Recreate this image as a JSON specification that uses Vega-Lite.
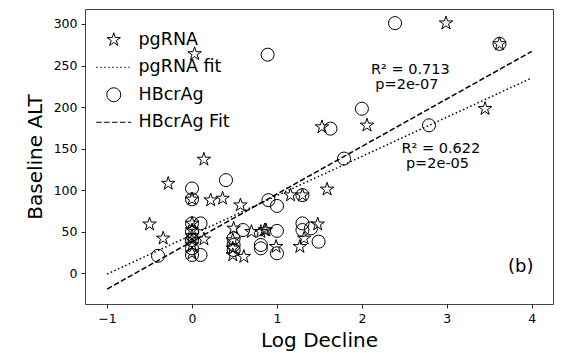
{
  "$schema": "https://vega.github.io/schema/vega-lite/v6.json",
  "width": 468,
  "height": 295,
  "autosize": "none",
  "padding": {"left": 85, "top": 9, "right": 13, "bottom": 49},
  "background": "white",
  "config": {
    "view": {"stroke": "#444", "strokeWidth": 1},
    "font": "DejaVu Sans",
    "axis": {
      "grid": false,
      "domain": false,
      "tickColor": "#222",
      "tickSize": 4,
      "tickWidth": 1,
      "labelFont": "DejaVu Sans",
      "labelFontSize": 12.5,
      "labelColor": "#000",
      "labelPadding": 4,
      "titleFont": "DejaVu Sans",
      "titleFontSize": 20,
      "titleFontWeight": "normal",
      "titleColor": "#000"
    }
  },
  "datasets": {
    "pgRNA": [
      {"x": 0.03, "y": 264}, {"x": 2.99, "y": 301}, {"x": 3.62, "y": 276}, {"x": 3.45, "y": 198},
      {"x": 2.06, "y": 178}, {"x": 1.53, "y": 176}, {"x": 0.14, "y": 137}, {"x": -0.28, "y": 108},
      {"x": 0.0, "y": 89}, {"x": 0.22, "y": 88}, {"x": 0.36, "y": 90}, {"x": 0.57, "y": 82},
      {"x": 1.16, "y": 94}, {"x": 1.30, "y": 94}, {"x": 1.59, "y": 101}, {"x": -0.50, "y": 59},
      {"x": -0.34, "y": 42}, {"x": 0.0, "y": 60}, {"x": 0.0, "y": 52}, {"x": 0.0, "y": 45},
      {"x": 0.0, "y": 40}, {"x": 0.0, "y": 34}, {"x": 0.0, "y": 24}, {"x": 0.14, "y": 41},
      {"x": 0.49, "y": 54}, {"x": 0.70, "y": 50}, {"x": 0.81, "y": 50}, {"x": 0.87, "y": 52},
      {"x": 0.48, "y": 30}, {"x": 0.48, "y": 22}, {"x": 0.61, "y": 20}, {"x": 0.48, "y": 40},
      {"x": 0.99, "y": 32}, {"x": 1.27, "y": 32}, {"x": 1.32, "y": 42}, {"x": 1.48, "y": 59},
      {"x": 0.855, "y": 52}
    ],
    "hbcrag": [
      {"x": 0.89, "y": 263}, {"x": 2.39, "y": 301}, {"x": 3.62, "y": 276}, {"x": 2.0, "y": 198},
      {"x": 1.63, "y": 174}, {"x": 2.79, "y": 178}, {"x": 1.79, "y": 138}, {"x": 0.40, "y": 112},
      {"x": 0.0, "y": 102}, {"x": 0.0, "y": 89}, {"x": 0.90, "y": 88}, {"x": 1.0, "y": 81},
      {"x": 1.30, "y": 94}, {"x": -0.40, "y": 21}, {"x": 0.0, "y": 60}, {"x": 0.0, "y": 50},
      {"x": 0.0, "y": 40}, {"x": 0.0, "y": 30}, {"x": 0.0, "y": 22}, {"x": 0.10, "y": 60},
      {"x": 0.10, "y": 22}, {"x": 0.49, "y": 42}, {"x": 0.49, "y": 34}, {"x": 0.49, "y": 28},
      {"x": 0.60, "y": 52}, {"x": 0.81, "y": 34}, {"x": 0.81, "y": 30}, {"x": 1.0, "y": 51},
      {"x": 1.0, "y": 24}, {"x": 1.30, "y": 60}, {"x": 1.30, "y": 52}, {"x": 1.40, "y": 54},
      {"x": 1.49, "y": 38}
    ],
    "fits": [
      {"series": "pgRNA fit", "x": -1, "y": -1}, {"series": "pgRNA fit", "x": 4, "y": 235},
      {"series": "HBcrAg Fit", "x": -1, "y": -19}, {"series": "HBcrAg Fit", "x": 4, "y": 267}
    ],
    "notes": [
      {"x": 2.57, "y": 245, "label": "R² = 0.713", "size": 14.5},
      {"x": 2.53, "y": 226, "label": "p=2e-07", "size": 14.5},
      {"x": 2.93, "y": 150, "label": "R² = 0.622", "size": 14.5},
      {"x": 2.89, "y": 131, "label": "p=2e-05", "size": 14.5},
      {"x": 3.87, "y": 8, "label": "(b)", "size": 18}
    ]
  },
  "encoding": {
    "x": {"field": "x", "type": "quantitative", "title": "Log Decline",
      "scale": {"domain": [-1.26, 4.25], "nice": false, "zero": false},
      "axis": {"values": [-1, 0, 1, 2, 3, 4], "titlePadding": 6}},
    "y": {"field": "y", "type": "quantitative", "title": "Baseline ALT",
      "scale": {"domain": [-37, 318], "nice": false, "zero": false},
      "axis": {"values": [0, 50, 100, 150, 200, 250, 300], "titlePadding": 8}}
  },
  "layer": [
    {
      "data": {"name": "pgRNA"},
      "transform": [{"calculate": "'pgRNA'", "as": "series"}],
      "mark": {"type": "point", "filled": false, "color": "black", "strokeWidth": 1, "size": 200, "opacity": 1},
      "encoding": {
        "shape": {"field": "series", "type": "nominal",
          "scale": {"domain": ["pgRNA", "pgRNA fit", "HBcrAg", "HBcrAg Fit"],
            "range": ["M0,-1L0.2245,-0.309L0.9511,-0.309L0.3633,0.118L0.5878,0.809L0,0.382L-0.5878,0.809L-0.3633,0.118L-0.9511,-0.309L-0.2245,-0.309Z",
              "M-2.5,0L-2.29,0M-1.93,0L-1.72,0M-1.36,0L-1.15,0M-0.79,0L-0.58,0M-0.21,0L0,0M0.36,0L0.57,0M0.93,0L1.14,0M1.5,0L1.71,0M2.07,0L2.28,0",
              "circle",
              "M-2.5,0L-1.71,0M-1.37,0L-0.59,0M-0.24,0L0.54,0M0.89,0L1.67,0M2.01,0L2.5,0"]},
          "legend": {
            "title": null, "orient": "none", "legendX": 15, "legendY": 17, "padding": 5,
            "labelFont": "DejaVu Sans", "labelFontSize": 17.5, "labelColor": "#000",
            "symbolSize": 196, "symbolStrokeColor": "black", "symbolFillColor": "transparent",
            "symbolStrokeWidth": 1, "labelOffset": 16, "rowPadding": 8.5,
            "encode": {"symbols": {"update": {
              "strokeWidth": [{"test": "datum.value === 'pgRNA fit' || datum.value === 'HBcrAg Fit'", "value": 1.5}, {"value": 1}]
            }}}
          }}
      }
    },
    {
      "data": {"name": "hbcrag"},
      "transform": [{"calculate": "'HBcrAg'", "as": "series"}],
      "mark": {"type": "point", "filled": false, "color": "black", "strokeWidth": 1, "size": 170, "opacity": 1},
      "encoding": {
        "shape": {"field": "series", "type": "nominal"}
      }
    },
    {
      "data": {"name": "fits"},
      "transform": [{"filter": "datum.series === 'pgRNA fit'"}],
      "mark": {"type": "line", "color": "black", "strokeWidth": 1.5, "strokeDash": [1.5, 2.5]},
      "encoding": {}
    },
    {
      "data": {"name": "fits"},
      "transform": [{"filter": "datum.series === 'HBcrAg Fit'"}],
      "mark": {"type": "line", "color": "black", "strokeWidth": 1.5, "strokeDash": [5.5, 2.4]},
      "encoding": {}
    },
    {
      "data": {"name": "notes"},
      "mark": {"type": "text", "font": "DejaVu Sans", "align": "center", "baseline": "middle", "color": "black"},
      "encoding": {
        "text": {"field": "label"},
        "size": {"field": "size", "type": "quantitative", "scale": null}
      }
    }
  ]
}
